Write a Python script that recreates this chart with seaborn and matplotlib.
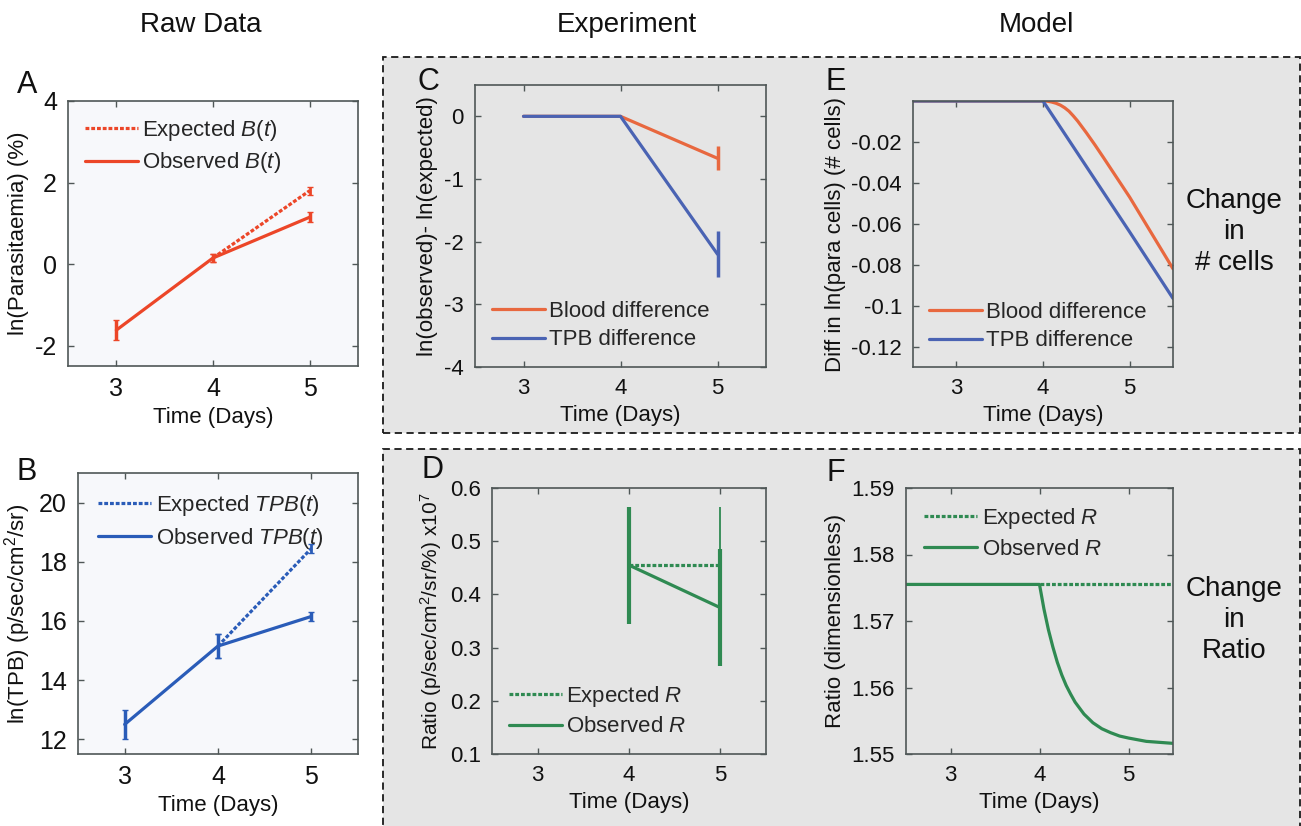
import numpy as np
import pandas as pd
import matplotlib
matplotlib.use("Agg")
import matplotlib.pyplot as plt
import matplotlib.patches as patches
import seaborn as sns

sns.set_theme(style="ticks")
plt.rcParams['font.family'] = ['Liberation Sans', 'DejaVu Sans']
plt.rcParams['mathtext.fontset'] = 'custom'
plt.rcParams['mathtext.rm'] = 'Liberation Sans'
plt.rcParams['mathtext.it'] = 'Liberation Sans:italic'
plt.rcParams['axes.unicode_minus'] = False

# --- data ---
# A: blood parasitaemia
days_obs = [3, 4, 5]
days_exp = [4, 5]
blood_obs = [-1.62, 0.15, 1.15]
blood_obs_err = [0.25, 0.1, 0.12]
blood_exp = [0.15, 1.8]
blood_exp_err = [0.1, 0.1]

# B: total photon flux
tpb_obs = [12.5, 15.15, 16.15]
tpb_obs_err = [0.5, 0.4, 0.15]
tpb_exp = [15.15, 18.45]
tpb_exp_err = [0.4, 0.15]

# C: experiment difference
diff_blood = [0, 0, -0.67]
diff_blood_err = [0, 0, 0.19]
diff_tpb = [0, 0, -2.2]
diff_tpb_err = [0, 0, 0.37]

# D: experimental ratio
ratio_exp = [0.455, 0.455]
ratio_exp_err = [0.11, 0.11]
ratio_obs = [0.455, 0.375]
ratio_obs_err = [0.11, 0.11]

# E: model difference
model_t_blood = [2.5, 4.0, 4.05, 4.1, 4.15, 4.2, 4.25, 4.3, 4.35, 4.4, 4.5, 4.6, 4.7,
                 4.8, 4.9, 5.0, 5.1, 5.2, 5.3, 5.4, 5.5]
model_blood = [0, 0, -0.0001, -0.0005, -0.0011, -0.002, -0.0033, -0.005, -0.0073, -0.0098,
               -0.0155, -0.0215, -0.0278, -0.0342, -0.0406, -0.047, -0.054, -0.061,
               -0.068, -0.075, -0.082]
model_t_tpb = [2.5, 4.0, 4.5, 5.0, 5.5]
model_tpb = [0, 0, -0.032, -0.064, -0.0965]

# F: model ratio
model_t_ratio = [2.5, 4.0, 4.05, 4.1, 4.15, 4.2, 4.25, 4.3, 4.35, 4.4, 4.5, 4.6, 4.7,
                 4.8, 4.9, 5.0, 5.2, 5.5]
model_ratio_obs = [1.5755, 1.5755, 1.5718, 1.5687, 1.5661, 1.5638, 1.5619, 1.5603, 1.5590,
                   1.5578, 1.5560, 1.5547, 1.5538, 1.5532, 1.5527, 1.5524, 1.5519, 1.5516]
model_t_exp = [4.0, 5.5]
model_ratio_exp = [1.5755, 1.5755]

RED = '#ec4628'
BLUE = '#2a5cb8'
ORANGE = '#e8683f'
BLUE2 = '#4a63b3'
GREEN = '#2f8a52'
BOXGRAY = '#e5e5e5'
DOT = (0, (1.2, 0.6))
TXT = '#111111'
LW = 2.3

W, H = 1301, 826
fig = plt.figure(figsize=(W / 100, H / 100), dpi=100)
fig.patch.set_facecolor('white')


def fbox(x0, y0, x1, y1):
    # pixel box -> figure fraction rect
    return [x0 / W, 1 - y1 / H, (x1 - x0) / W, (y1 - y0) / H]


# dashed grey panels
for (x0, y0, x1, y1) in [(383, 57, 1300, 433), (383, 449, 1300, 840)]:
    r = patches.Rectangle((x0 / W, 1 - y1 / H), (x1 - x0) / W, (y1 - y0) / H,
                          transform=fig.transFigure, facecolor=BOXGRAY,
                          edgecolor='#1a1a1a', linewidth=1.3,
                          linestyle=(0, (4, 2.5)), zorder=-10)
    fig.patches.append(r)

axA = fig.add_axes(fbox(68, 101, 358, 366))
axB = fig.add_axes(fbox(78, 473, 358, 754))
axC = fig.add_axes(fbox(475, 85, 766, 367))
axD = fig.add_axes(fbox(492, 488, 766, 754))
axE = fig.add_axes(fbox(913, 101, 1173, 367))
axF = fig.add_axes(fbox(906, 488, 1173, 754))


def style(ax, face, tick_fs):
    ax.set_facecolor(face)
    for s in ax.spines.values():
        s.set_color('#4f5757')
        s.set_linewidth(1.2)
    ax.tick_params(direction='in', top=True, right=True, length=4, width=1,
                   color='#4f5757', labelsize=tick_fs, labelcolor=TXT, pad=8)
    ax.set_xlabel('Time (Days)', fontsize=16, color=TXT)
    ax.set_xlim(2.5, 5.5)
    ax.set_xticks([3, 4, 5])


def legend(ax, loc, pad):
    ax.legend(loc=loc, frameon=False, fontsize=16, handlelength=2.4,
              handletextpad=0.2, borderaxespad=pad, labelspacing=0.35)


# ---- A ----
ax = axA
sns.lineplot(x=days_exp, y=blood_exp, ax=ax, color=RED, linewidth=LW,
             linestyle=DOT, label=r'Expected $B$($t$)')
sns.lineplot(x=days_obs, y=blood_obs, ax=ax, color=RED, linewidth=LW,
             label=r'Observed $B$($t$)')
ax.errorbar(days_exp, blood_exp, yerr=blood_exp_err, fmt='none', ecolor=RED, elinewidth=2, capsize=2)
ax.errorbar(days_obs, blood_obs, yerr=blood_obs_err, fmt='none', ecolor=RED, elinewidth=2.5, capsize=2)
style(ax, '#f7f8fb', 18)
ax.set_ylim(-2.5, 4)
ax.set_yticks([-2, 0, 2, 4])
ax.set_ylabel('ln(Parasitaemia) (%)', fontsize=16, color=TXT)
legend(ax, 'upper left', 0.35)

# ---- B ----
ax = axB
sns.lineplot(x=days_exp, y=tpb_exp, ax=ax, color=BLUE, linewidth=LW,
             linestyle=DOT, label=r'Expected $TPB$($t$)')
sns.lineplot(x=days_obs, y=tpb_obs, ax=ax, color=BLUE, linewidth=LW,
             label=r'Observed $TPB$($t$)')
ax.errorbar(days_exp, tpb_exp, yerr=tpb_exp_err, fmt='none', ecolor=BLUE, elinewidth=2, capsize=2)
ax.errorbar(days_obs, tpb_obs, yerr=tpb_obs_err, fmt='none', ecolor=BLUE, elinewidth=2.5, capsize=2)
style(ax, '#f7f8fb', 18)
ax.set_ylim(11.5, 21)
ax.set_yticks([12, 14, 16, 18, 20])
ax.set_ylabel(r'ln(TPB) (p/sec/cm$^2$/sr)', fontsize=16, color=TXT)
legend(ax, 'upper left', 0.5)

# ---- C ----
ax = axC
sns.lineplot(x=days_obs, y=diff_blood, ax=ax, color=ORANGE, linewidth=LW, label='Blood difference')
sns.lineplot(x=days_obs, y=diff_tpb, ax=ax, color=BLUE2, linewidth=LW, label='TPB difference')
ax.errorbar(days_obs, diff_blood, yerr=diff_blood_err, fmt='none', ecolor=ORANGE, elinewidth=2.5)
ax.errorbar(days_obs, diff_tpb, yerr=diff_tpb_err, fmt='none', ecolor=BLUE2, elinewidth=2.5)
style(ax, BOXGRAY, 16)
ax.set_ylim(-4, 0.5)
ax.set_yticks([-4, -3, -2, -1, 0])
ax.set_ylabel('ln(observed)- ln(expected)', fontsize=16, color=TXT)
legend(ax, 'lower left', 0.35)

# ---- D ----
ax = axD
sns.lineplot(x=days_exp, y=ratio_exp, ax=ax, color=GREEN, linewidth=LW,
             linestyle=DOT, label=r'Expected $R$')
sns.lineplot(x=days_exp, y=ratio_obs, ax=ax, color=GREEN, linewidth=LW, label=r'Observed $R$')
ax.errorbar(days_exp, ratio_exp, yerr=ratio_exp_err, fmt='none', ecolor=GREEN, elinewidth=1.3)
ax.errorbar(days_exp, ratio_obs, yerr=ratio_obs_err, fmt='none', ecolor=GREEN, elinewidth=3)
style(ax, BOXGRAY, 16)
ax.set_ylim(0.1, 0.6)
ax.set_yticks([0.1, 0.2, 0.3, 0.4, 0.5, 0.6])
ax.set_ylabel(r'Ratio (p/sec/cm$^2$/sr/%) x10$^7$', fontsize=15, color=TXT)
legend(ax, 'lower left', 0.35)

# ---- E ----
ax = axE
sns.lineplot(x=model_t_blood, y=model_blood, ax=ax, color=ORANGE, linewidth=LW, label='Blood difference')
sns.lineplot(x=model_t_tpb, y=model_tpb, ax=ax, color=BLUE2, linewidth=LW, label='TPB difference')
style(ax, BOXGRAY, 16)
ax.set_ylim(-0.13, 0)
ax.set_yticks([-0.12, -0.1, -0.08, -0.06, -0.04, -0.02])
ax.set_yticklabels(['-0.12', '-0.1', '-0.08', '-0.06', '-0.04', '-0.02'])
ax.set_ylabel('Diff in ln(para cells) (# cells)', fontsize=16, color=TXT)
legend(ax, 'lower left', 0.3)

# ---- F ----
ax = axF
sns.lineplot(x=model_t_exp, y=model_ratio_exp, ax=ax, color=GREEN, linewidth=LW,
             linestyle=DOT, label=r'Expected $R$')
sns.lineplot(x=model_t_ratio, y=model_ratio_obs, ax=ax, color=GREEN, linewidth=LW,
             label=r'Observed $R$')
style(ax, BOXGRAY, 16)
ax.set_ylim(1.55, 1.59)
ax.set_yticks([1.55, 1.56, 1.57, 1.58, 1.59])
ax.set_ylabel('Ratio (dimensionless)', fontsize=16, color=TXT)
legend(ax, 'upper left', 0.4)

# column titles, panel letters, side notes
for x, t in [(201, 'Raw Data'), (627, 'Experiment'), (1036, 'Model')]:
    fig.text(x / W, 1 - 25 / H, t, ha='center', va='center', fontsize=20, color=TXT)
for x, y, t in [(27, 85, 'A'), (27, 472, 'B'), (428, 82, 'C'),
                (432, 470, 'D'), (836, 82, 'E'), (836, 473, 'F')]:
    fig.text(x / W, 1 - y / H, t, ha='center', va='center', fontsize=22, color=TXT)
fig.text(1234 / W, 1 - 232 / H, 'Change\nin\n# cells', ha='center', va='center',
         fontsize=20, linespacing=1.25, color=TXT)
fig.text(1234 / W, 1 - 620 / H, 'Change\nin\nRatio', ha='center', va='center',
         fontsize=20, linespacing=1.25, color=TXT)

fig.savefig('out.png', dpi=100, facecolor='white')
